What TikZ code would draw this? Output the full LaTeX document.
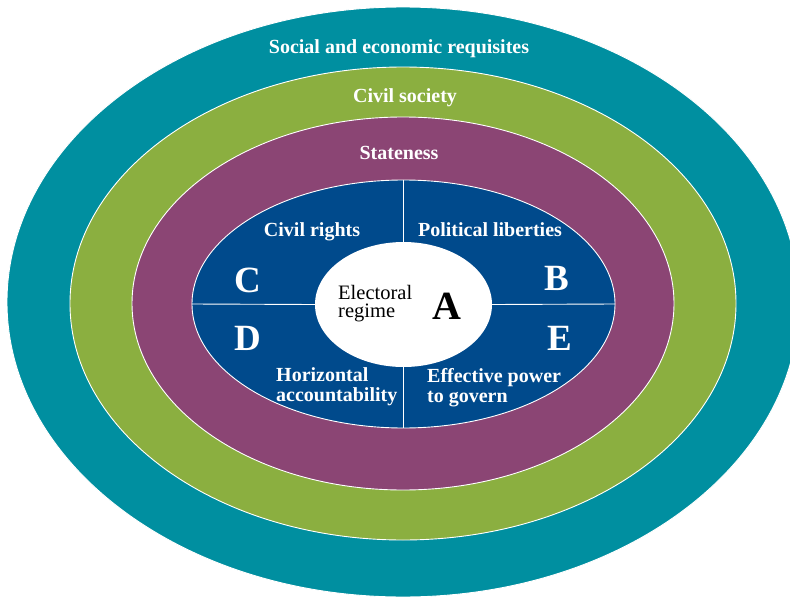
\documentclass[tikz,border=0pt]{standalone}
\usepackage{fontspec}
\setmainfont{Liberation Serif}
\usetikzlibrary{shapes.geometric}
\definecolor{ringteal}{RGB}{0,143,160}
\definecolor{ringgreen}{RGB}{139,175,64}
\definecolor{ringpurple}{RGB}{139,69,116}
\definecolor{coreblue}{RGB}{0,74,140}
\tikzset{
  ring/.style={ellipse, inner sep=0pt, draw=white, line width=0.9pt},
  lbl/.style={text=white, inner sep=0pt, font=\fontsize{20}{20}\selectfont\bfseries},
  lbltwo/.style={text=white, inner sep=0pt, align=left, font=\fontsize{20}{20}\selectfont\bfseries},
  letter/.style={text=white, inner sep=0pt, font=\fontsize{37}{37}\selectfont\bfseries},
  divider/.style={draw=white, line width=0.9pt}
}
\begin{document}
\begin{tikzpicture}[x=1pt, y=-1pt]
\useasboundingbox (0,0) rectangle (790,597);
\clip (0,0) rectangle (790,597);
\node[ring, fill=ringteal, minimum width=792pt, minimum height=590pt] (teal) at (403,302) {};
\node[ring, fill=ringgreen, minimum width=666pt, minimum height=473pt] (green) at (403,303.5) {};
\node[ring, fill=ringpurple, minimum width=542pt, minimum height=373pt] (purple) at (403,303.5) {};
\node[ring, fill=coreblue, minimum width=423pt, minimum height=248pt] (blue) at (403.5,304) {};
\node[ellipse, inner sep=0pt, fill=white, minimum width=177pt, minimum height=125pt] (core) at (403.5,304.5) {};
\draw[divider] (blue.north) -- (core.north);
\draw[divider] (core.south) -- (blue.south);
\draw[divider] (blue.west) -- (core.west);
\draw[divider] (core.east) -- (blue.east);

\node[lbl, anchor=base] (social) at (399,53) {Social and economic requisites};
\node[lbl, anchor=base] (civsoc) at (405,102) {Civil society};
\node[lbl, anchor=base] (state) at (399,159) {Stateness};
\node[lbl, anchor=base] (civrights) at (312,236) {Civil rights};
\node[lbl, anchor=base] (pollib) at (490,236) {Political liberties};
\node[lbltwo, anchor=north west] (horiz) at (276,367) {Horizontal\\accountability};
\node[lbltwo, anchor=north west] (effpow) at (427,368) {Effective power\\to govern};

\node[inner sep=0pt, align=left, anchor=north west, font=\fontsize{20.5}{18}\selectfont] (elect) at (338,285) {Electoral\\regime};
\node[inner sep=0pt, font=\fontsize{40}{40}\selectfont\bfseries] (A) at (447,306) {A};
\node[letter] (C) at (247.5,280) {C};
\node[letter] (B) at (557,278) {B};
\node[letter] (D) at (247.5,338) {D};
\node[letter] (E) at (559.5,338) {E};
\end{tikzpicture}
\end{document}
